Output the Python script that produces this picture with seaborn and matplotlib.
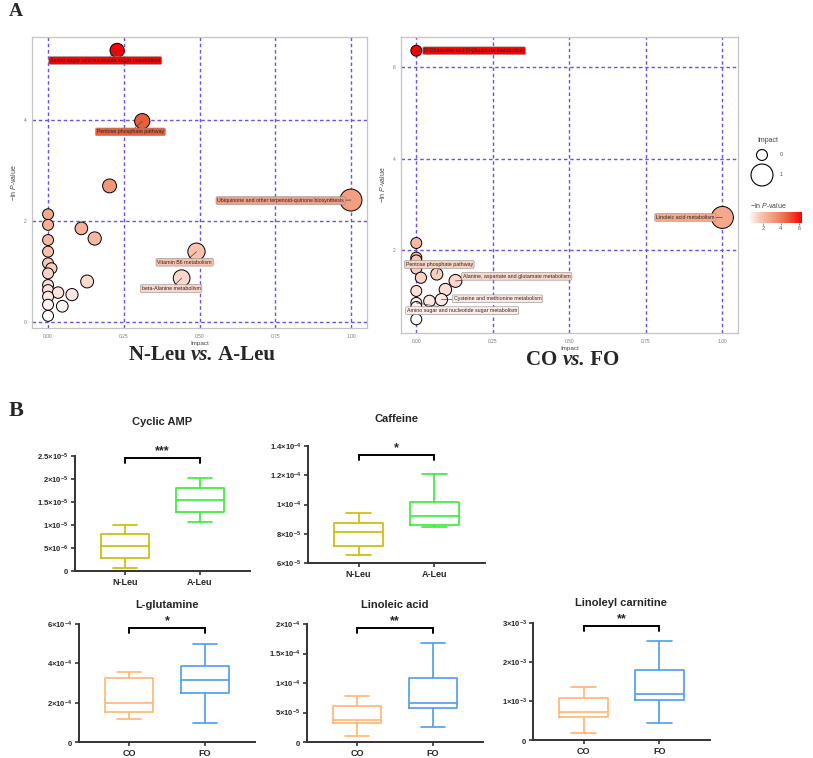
import numpy as np
import pandas as pd
import matplotlib
matplotlib.use('Agg')
import matplotlib.pyplot as plt
from matplotlib.colors import LinearSegmentedColormap, Normalize
from matplotlib.cm import ScalarMappable
import seaborn as sns

sns.set_style('white')
plt.rcParams['font.family'] = ['Liberation Sans', 'DejaVu Sans']
plt.rcParams['mathtext.fontset'] = 'custom'
plt.rcParams['mathtext.rm'] = 'Liberation Sans'
plt.rcParams['mathtext.it'] = 'Liberation Sans:italic'
plt.rcParams['mathtext.bf'] = 'Liberation Sans:bold'

W, H = 813, 758

# ---- Panel A: pathway enrichment bubbles ----
left_impact = [0.228, 0.311, 0.203, 1.0, 0, 0, 0.110, 0.154, 0, 0, 0.49, 0, 0.011, 0,
               0.129, 0.441, 0, 0, 0.033, 0.079, 0, 0, 0.047, 0]
left_lnp = [5.38, 3.98, 2.70, 2.42, 2.14, 1.93, 1.86, 1.66, 1.63, 1.40, 1.40, 1.17, 1.07, 0.97,
            0.81, 0.875, 0.74, 0.64, 0.59, 0.55, 0.51, 0.35, 0.32, 0.13]
left_names = ['Amino sugar and nucleotide sugar metabolism', 'Pentose phosphate pathway',
              'Ubiquinone and other terpenoid-quinone biosynthesis', 'Vitamin B6 metabolism',
              'beta-Alanine metabolism']
left_label_pt = [0, 1, 3, 10, 15]
left_label_x = [0.189, 0.272, 0.768, 0.451, 0.406]
left_label_y = [5.18, 3.77, 2.41, 1.19, 0.67]

right_impact = [0, 1.0, 0, 0, 0, 0, 0.067, 0.015, 0.128, 0.095, 0, 0.043, 0.082, 0, 0, 0]
right_lnp = [6.36, 2.71, 2.15, 1.83, 1.77, 1.59, 1.47, 1.39, 1.32, 1.13, 1.10, 0.88, 0.91,
             0.84, 0.75, 0.48]
right_names = ['D-Glutamine and D-glutamate metabolism', 'Linoleic acid metabolism',
               'Pentose phosphate pathway', 'Alanine, aspartate and glutamate metabolism',
               'Cysteine and methionine metabolism', 'Amino sugar and nucleotide sugar metabolism']
right_label_pt = [0, 1, 6, 8, 12, 13]
right_label_x = [0.189, 0.879, 0.075, 0.328, 0.265, 0.150]
right_label_y = [6.36, 2.71, 1.68, 1.42, 0.93, 0.67]

# ---- Panel B: box plots (min, Q1, median, Q3, max per group) ----
cyc_amp = {'N-Leu': [0.65e-6, 2.8e-6, 5.35e-6, 7.95e-6, 1.01e-5],
           'A-Leu': [1.07e-5, 1.28e-5, 1.55e-5, 1.80e-5, 2.02e-5]}
caffeine = {'N-Leu': [6.52e-5, 7.18e-5, 8.11e-5, 8.73e-5, 9.45e-5],
            'A-Leu': [8.48e-5, 8.61e-5, 9.23e-5, 1.014e-4, 1.207e-4]}
glutamine = {'CO': [1.19e-4, 1.55e-4, 2.0e-4, 3.25e-4, 3.55e-4],
             'FO': [0.95e-4, 2.51e-4, 3.13e-4, 3.84e-4, 4.98e-4]}
linoleic = {'CO': [1.08e-5, 3.23e-5, 3.80e-5, 6.06e-5, 7.88e-5],
            'FO': [2.55e-5, 5.72e-5, 6.63e-5, 1.088e-4, 1.683e-4]}
carnitine = {'CO': [0.18e-3, 0.58e-3, 0.71e-3, 1.08e-3, 1.36e-3],
             'FO': [0.44e-3, 1.02e-3, 1.18e-3, 1.79e-3, 2.53e-3]}

box_titles = ['Cyclic AMP', 'Caffeine', 'L-glutamine', 'Linoleic acid', 'Linoleyl carnitine']
box_data = [cyc_amp, caffeine, glutamine, linoleic, carnitine]
box_stars = ['***', '*', '*', '**', '**']
bracket_top = [2.46e-5, 1.339e-4, 5.81e-4, 1.94e-4, 2.92e-3]
bracket_end = [2.34e-5, 1.305e-4, 5.56e-4, 1.85e-4, 2.79e-3]
y_ticks = [[0, 5e-6, 1e-5, 1.5e-5, 2e-5, 2.5e-5],
           [6e-5, 8e-5, 1e-4, 1.2e-4, 1.4e-4],
           [0, 2e-4, 4e-4, 6e-4],
           [0, 5e-5, 1e-4, 1.5e-4, 2e-4],
           [0, 1e-3, 2e-3, 3e-3]]
group_colors = {'N-Leu': '#CBBA00', 'A-Leu': '#33EE33', 'CO': '#FFB56E', 'FO': '#4A9DF0'}

fig = plt.figure(figsize=(W / 100, H / 100), dpi=100)


def px_axes(left, top, right, bottom):
    return fig.add_axes([left / W, 1 - bottom / H, (right - left) / W, (bottom - top) / H])


# white -> red, bent towards salmon like ggplot's Lab gradient
cmap = LinearSegmentedColormap.from_list(
    'wr', [(0.0, '#FFFFFF'), (0.08, '#FDE6DE'), (0.2, '#FAC9B8'), (0.38, '#F5A88B'),
           (0.55, '#F08A69'), (0.73, '#E8603C'), (1.0, '#FF0000')])
grid_col = '#6F4FE6'


def bubble_panel(ax, impact, lnp, names, lab_pt, lab_x, lab_y, xlim, ylim, yticks):
    df = pd.DataFrame({'Impact': impact, 'lnp': lnp})
    norm = Normalize(min(lnp), max(lnp))
    sns.scatterplot(data=df, x='Impact', y='lnp', hue='lnp', size='Impact', palette=cmap,
                    hue_norm=(norm.vmin, norm.vmax), sizes=(62, 250), size_norm=(0, 1),
                    edgecolor='black', linewidth=0.7, legend=False, ax=ax, zorder=3)
    for name, i, tx, ty in zip(names, lab_pt, lab_x, lab_y):
        ax.annotate(name, xy=(impact[i], lnp[i]), xytext=(tx, ty), fontsize=3.8,
                    ha='center', va='center', zorder=5,
                    bbox=dict(boxstyle='round,pad=0.25', fc=cmap(norm(lnp[i])), ec='#8a8a8a', lw=0.4),
                    arrowprops=dict(arrowstyle='-', color='#444444', lw=0.5, shrinkA=0, shrinkB=0))
    ax.set_xlim(*xlim)
    ax.set_ylim(*ylim)
    ax.set_xticks([0, 0.25, 0.5, 0.75, 1.0])
    ax.set_xticklabels(['0.00', '0.25', '0.50', '0.75', '1.00'])
    ax.set_yticks(yticks)
    ax.set_axisbelow(True)
    ax.grid(True, color=grid_col, linestyle=(0, (2.5, 2)), lw=1.0)
    ax.tick_params(labelsize=3.5, length=2, width=0.5, colors='#777777', pad=2)
    for s in ax.spines.values():
        s.set_color('#C4C4C4')
        s.set_linewidth(0.9)
    ax.set_xlabel('Impact', fontsize=4.5, color='#444444', labelpad=2)
    ax.set_ylabel('$-$ln $P$-value', fontsize=5, color='#444444', labelpad=4)


axA1 = px_axes(32, 37, 367, 328)
bubble_panel(axA1, left_impact, left_lnp, left_names, left_label_pt, left_label_x, left_label_y,
             (-0.053, 1.053), (-0.11, 5.645), [0, 2, 4])
axA2 = px_axes(401, 37, 738, 333)
bubble_panel(axA2, right_impact, right_lnp, right_names, right_label_pt, right_label_x, right_label_y,
             (-0.05, 1.051), (0.18, 6.66), [2, 4, 6])

# legend for bubbles (pixel coordinates)
lg = px_axes(740, 125, 813, 235)
lg.set_xlim(740, 813)
lg.set_ylim(235, 125)
lg.axis('off')
lg.scatter([762, 762], [155, 175], s=[62, 250], facecolors='white', edgecolors='black', linewidths=0.8)
lg.text(768, 141, 'Impact', fontsize=5, color='#444444', ha='center', va='center')
lg.text(780, 155, '0', fontsize=4, color='#555555', va='center')
lg.text(780, 175, '1', fontsize=4, color='#555555', va='center')
lg.text(768, 206, '$-$ln $P$-value', fontsize=5, color='#444444', ha='center', va='center')
cax = px_axes(749, 212, 802, 223)
cb = fig.colorbar(ScalarMappable(norm=Normalize(min(right_lnp), max(right_lnp)), cmap=cmap),
                  cax=cax, orientation='horizontal', ticks=[2, 4, 6])
cb.outline.set_visible(False)
cax.tick_params(labelsize=4, length=1.5, width=0.5, colors='#555555', pad=1)


def mixed_title(xc, yc, parts):
    r = fig.canvas.get_renderer()
    objs = [fig.text(0, 1 - yc / H, txt, fontfamily='Liberation Serif', fontweight='bold',
                     fontstyle=st, fontsize=15, va='center') for txt, st in parts]
    widths = [t.get_window_extent(r).width for t in objs]
    x = xc - sum(widths) / 2
    for t, w in zip(objs, widths):
        t.set_x(x / W)
        x += w


mixed_title(202, 355, [('N-Leu ', 'normal'), ('vs.', 'italic'), (' A-Leu', 'normal')])
mixed_title(573, 360, [('CO ', 'normal'), ('vs.', 'italic'), (' FO', 'normal')])

fig.text(9 / W, 1 - 12 / H, 'A', fontfamily='Liberation Serif', fontweight='bold', fontsize=14, va='center')
fig.text(9 / W, 1 - 411 / H, 'B', fontfamily='Liberation Serif', fontweight='bold', fontsize=16, va='center')


# ---- Panel B ----
def sci_label(v):
    if v == 0:
        return r'$\mathbf{0}$'
    exp = int(np.floor(np.log10(abs(v)) + 1e-9))
    man = f'{v / 10 ** exp:g}'
    return r'$\mathbf{' + man + r'{\times}10^{' + str(exp) + '}}$'


box_axes_px = [(75, 456, 250, 571), (308, 446, 485, 563), (79, 624, 255, 742),
               (307, 624, 483, 742), (533, 623, 710, 740)]
title_px = [(162, 422), (396, 419), (167, 605), (395, 605), (621, 603)]

for k, (data, title) in enumerate(zip(box_data, box_titles)):
    ax = px_axes(*box_axes_px[k])
    groups = list(data.keys())
    df = pd.DataFrame([(g, v) for g in groups for v in data[g]], columns=['group', 'value'])
    sns.boxplot(data=df, x='group', y='value', hue='group', order=groups, hue_order=groups,
                palette=group_colors, fill=False, whis=(0, 100), width=0.64, linewidth=1.2,
                legend=False, ax=ax)
    ax.set_xlim(-0.667, 1.667)
    yt = y_ticks[k]
    ax.set_ylim(yt[0], yt[-1])
    ax.set_yticks(yt)
    ax.set_yticklabels([sci_label(v) for v in yt])
    ax.set_xlabel('')
    ax.set_ylabel('')
    sns.despine(ax=ax)
    for s in ['left', 'bottom']:
        ax.spines[s].set_color('#333333')
        ax.spines[s].set_linewidth(1.4)
    ax.tick_params(axis='y', labelsize=5.5, length=3, width=1.2, color='#333333', pad=1.5, left=True)
    ax.tick_params(axis='x', labelsize=6.5, length=3, width=1.2, color='#333333', pad=2, bottom=True)
    for lab in ax.get_xticklabels():
        lab.set_fontweight('bold')
    # significance bracket
    bt, be = bracket_top[k], bracket_end[k]
    ax.plot([0, 0, 1, 1], [be, bt, bt, be], color='black', lw=1.4, clip_on=False,
            solid_joinstyle='miter')
    ax.annotate(box_stars[k], xy=(0.5, bt), xytext=(0, 0.5), textcoords='offset points',
                ha='center', va='bottom', fontsize=9, fontweight='bold', annotation_clip=False)
    tx, ty = title_px[k]
    fig.text(tx / W, 1 - ty / H, title, fontsize=8, fontweight='bold', ha='center', va='center')

fig.savefig('out.png', dpi=100)
